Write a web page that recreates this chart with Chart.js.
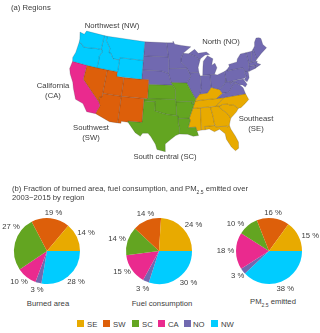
<!DOCTYPE html>
<html>
<head>
<meta charset="utf-8">
<title>Regions and fire emissions</title>
<script src="https://cdn.jsdelivr.net/npm/chart.js@4/dist/chart.umd.min.js"></script>
<style>
    html, body { margin: 0; padding: 0; background: #fff; }
    #page { position: relative; width: 320px; height: 333px; overflow: hidden; background: #fff;
            font-family: "Liberation Sans", Arial, sans-serif; font-size: 7.7px; color: #3c3c3c;
            filter: blur(0.35px); }
    #page canvas { position: absolute; }
    .txt { position: absolute; white-space: nowrap; line-height: 9.5px; }
    .mid { transform: translateX(-50%); text-align: center; }
    .swatch { position: absolute; width: 7px; height: 7px; top: 320px; }
    sub { font-size: 5px; line-height: 0; }
</style>
</head>
<body>
<div id="page">
    <canvas id="map" width="320" height="180" style="left:0;top:0"></canvas>
    <canvas id="pie1" width="110" height="92" style="left:-8px;top:205px"></canvas>
    <canvas id="pie2" width="110" height="92" style="left:104px;top:205px"></canvas>
    <canvas id="pie3" width="110" height="92" style="left:214px;top:205px"></canvas>

    <div class="txt" style="left:11px;top:3px">(a) Regions</div>
    <div class="txt mid" style="left:112px;top:21px">Northwest (NW)</div>
    <div class="txt mid" style="left:221px;top:37px">North (NO)</div>
    <div class="txt mid" style="left:53px;top:81px">California<br>(CA)</div>
    <div class="txt mid" style="left:91px;top:123px">Southwest<br>(SW)</div>
    <div class="txt mid" style="left:165px;top:152px">South central (SC)</div>
    <div class="txt mid" style="left:256px;top:114px">Southeast<br>(SE)</div>
    <div class="txt" style="left:12px;top:183.5px">(b) Fraction of burned area, fuel consumption, and PM<sub>2.5</sub> emitted over<br>2003&#8722;2015 by region</div>
    <div class="txt mid" style="left:48px;top:298.5px">Burned area</div>
    <div class="txt mid" style="left:162px;top:298.5px">Fuel consumption</div>
    <div class="txt mid" style="left:273px;top:297px">PM<sub>2.5</sub> emitted</div>
    <div id="legend"></div>
</div>

<script>
// shares in percent, clockwise from 3 o'clock
const regions = ['NW', 'NO', 'CA', 'SC', 'SW', 'SE'];
const burnedArea = [28, 3, 10, 27, 19, 14];
const fuelConsumption = [30, 3, 15, 14, 14, 24];
const pmEmitted = [38, 3, 18, 10, 16, 15];

const legendOrder = ['SE', 'SW', 'SC', 'CA', 'NO', 'NW'];

// state outlines as [lon, lat]
const nwStates = [
    [[-124.7,48.4],[-123.2,48.2],[-122.8,49],[-117.03,49],[-117.03,46.4],[-116.9,46],[-119,45.9],[-121,45.65],[-122.3,45.55],[-123.2,46.15],[-124,46.3],[-124.1,47]],
    [[-124,46.3],[-123.2,46.15],[-122.3,45.55],[-121,45.65],[-119,45.9],[-116.9,46],[-116.5,45.5],[-117.2,44.4],[-117.03,44],[-117.03,42],[-120,42],[-124.2,42],[-124.5,42.8],[-124.1,44]],
    [[-117.03,49],[-116.05,49],[-116.05,48],[-114.5,46.6],[-114.5,45.6],[-113.9,45.6],[-113,44.5],[-111.05,44.5],[-111.05,42],[-117.03,42],[-117.03,44],[-117.2,44.4],[-116.5,45.5],[-116.9,46],[-117.03,46.4]],
    [[-116.05,49],[-104.05,49],[-104.05,45],[-111.05,45],[-111.05,44.5],[-113,44.5],[-113.9,45.6],[-114.5,45.6],[-114.5,46.6],[-116.05,48]],
    [[-111.05,45],[-104.05,45],[-104.05,41],[-111.05,41]]
];
const caStates = [
    [[-124.2,42],[-120,42],[-120,39],[-114.63,35],[-114.13,34.3],[-114.7,33],[-114.8,32.5],[-117.1,32.5],[-118.5,34],[-120.6,34.5],[-121.9,36.6],[-122.5,37.8],[-123.8,39.3],[-124.4,40.4]]
];
const swStates = [
    [[-120,42],[-114.04,42],[-114.04,36.2],[-114.7,36.1],[-114.63,35],[-120,39]],
    [[-114.04,42],[-111.05,42],[-111.05,41],[-109.05,41],[-109.05,37],[-114.04,37]],
    [[-109.05,41],[-102.05,41],[-102.05,37],[-109.05,37]],
    [[-114.04,37],[-109.05,37],[-109.05,31.33],[-111.07,31.33],[-114.8,32.5],[-114.7,33],[-114.13,34.3],[-114.63,35],[-114.7,36.1],[-114.04,36.2]],
    [[-109.05,37],[-103,37],[-103.05,32],[-106.6,32],[-106.5,31.75],[-108.2,31.78],[-108.2,31.33],[-109.05,31.33]]
];
const scStates = [
    [[-103,36.5],[-100,36.5],[-100,34.56],[-98,34.1],[-96.5,33.8],[-94.48,33.64],[-94.05,33.55],[-94.05,33],[-94.04,32],[-93.7,31],[-93.85,29.7],[-94.7,29.4],[-96,28.5],[-97.2,27.6],[-97.15,25.95],[-99.1,26.4],[-99.5,27.5],[-100.7,29.1],[-101.4,29.77],[-102.7,29.7],[-103.2,29],[-104.5,29.7],[-106.5,31.75],[-106.6,32],[-103.05,32]],
    [[-103,37],[-94.62,37],[-94.43,35.4],[-94.48,33.64],[-96.5,33.8],[-98,34.1],[-100,34.56],[-100,36.5],[-103,36.5]],
    [[-102.05,40],[-95.3,40],[-94.62,39.1],[-94.62,37],[-102.05,37]],
    [[-95.8,40.6],[-91.4,40.4],[-90.2,38.4],[-89.5,37.3],[-89.15,37],[-89.5,36.5],[-89.7,36],[-90.37,36],[-90.1,36.5],[-94.62,36.5],[-94.62,39.1],[-95.3,40]],
    [[-94.62,36.5],[-90.1,36.5],[-90.37,36],[-89.7,36],[-90.2,35],[-91.2,33],[-94.05,33],[-94.05,33.55],[-94.48,33.64],[-94.43,35.4]],
    [[-94.05,33],[-91.2,33],[-91,32.5],[-91.6,31],[-89.75,31],[-89.5,30.2],[-89.2,29.2],[-90.5,29.1],[-91.8,29.6],[-93.85,29.7],[-93.7,31],[-94.04,32]]
];
const noStates = [
    [[-104.05,49],[-97.2,49],[-96.6,46],[-104.05,46]],
    [[-104.05,46],[-96.6,46],[-96.45,45.3],[-96.45,43.5],[-96.5,42.5],[-98.5,43],[-104.05,43]],
    [[-104.05,43],[-98.5,43],[-96.5,42.5],[-95.8,40.6],[-95.3,40],[-102.05,40],[-102.05,41],[-104.05,41]],
    [[-96.45,43.5],[-91.2,43.5],[-90.2,41.8],[-91.4,40.4],[-95.8,40.6],[-96.5,42.5]],
    [[-97.2,49],[-95.15,49],[-95.15,49.4],[-94.6,48.7],[-92.5,48.4],[-89.6,48],[-92.1,46.7],[-92.8,45.6],[-92.8,44.8],[-91.2,43.5],[-96.45,43.5],[-96.45,45.3],[-96.6,46]],
    [[-92.1,46.7],[-90.4,46.55],[-88.1,45.8],[-87.6,45.1],[-87,45.3],[-87.9,43.5],[-87.8,42.5],[-90.6,42.5],[-91.2,43.5],[-92.8,44.8],[-92.8,45.6]],
    [[-90.6,42.5],[-87.8,42.5],[-87.5,41.7],[-87.53,39.3],[-88.1,37.9],[-89.15,37],[-89.5,37.3],[-90.2,38.4],[-91.4,40.4],[-90.2,41.8]],
    [[-87.5,41.7],[-84.8,41.7],[-84.8,39.1],[-86,38],[-88.1,37.9],[-87.53,39.3]],
    [[-86.8,41.76],[-84.8,41.7],[-83.45,41.73],[-82.5,43],[-82.9,44],[-83.9,43.7],[-83.3,45],[-84.8,45.8],[-86.2,44.7],[-86.5,43.5]],
    [[-90.4,46.55],[-88.5,47.4],[-87.5,46.5],[-85,46.6],[-84.1,46],[-85.5,46],[-87,45.3],[-87.6,45.1],[-88.1,45.8]],
    [[-84.8,41.7],[-83.45,41.73],[-82.7,41.5],[-80.52,42],[-80.52,40.6],[-80.8,39.7],[-81.8,38.9],[-82.6,38.4],[-84,38.8],[-84.8,39.1]],
    [[-83.7,36.6],[-82,37.5],[-80.3,37.5],[-79.3,38.4],[-78.4,39.15],[-77.8,39.1],[-77.1,38.7],[-76.3,37.9],[-76,36.55],[-81.7,36.6]],
    [[-82.6,38.4],[-81.8,38.9],[-80.8,39.7],[-80.52,40.6],[-80.52,39.72],[-79.48,39.72],[-79.48,39.2],[-78.4,39.6],[-77.8,39.1],[-78.4,39.15],[-79.3,38.4],[-80.3,37.5],[-82,37.5]],
    [[-80.52,42],[-79.76,42.27],[-79.76,42],[-75.35,42],[-74.7,41.35],[-75.1,40.9],[-74.75,40.2],[-75.4,39.8],[-79.48,39.72],[-80.52,39.72]],
    [[-79.76,42.27],[-78.9,42.9],[-79,43.3],[-76.5,43.5],[-76.2,44.1],[-75,45],[-73.35,45],[-73.25,43.6],[-73.25,42.75],[-73.5,42.05],[-73.65,41],[-74,41],[-74.7,41.35],[-75.35,42],[-79.76,42]],
    [[-74.7,41.35],[-74,41],[-74,40.5],[-74.1,39.7],[-74.9,38.95],[-75.5,39.5],[-74.75,40.2],[-75.1,40.9]],
    [[-79.48,39.72],[-75.75,39.72],[-75.05,38.45],[-75.7,37.95],[-76.3,38.5],[-77.1,38.7],[-77.8,39.1],[-78.4,39.6],[-79.48,39.2]],
    [[-73.35,45],[-71.5,45],[-72.5,42.75],[-73.25,42.75],[-73.25,43.6]],
    [[-71.5,45],[-71.05,45.3],[-70.7,43.1],[-71.2,42.75],[-72.5,42.75]],
    [[-71.05,45.3],[-70.3,45.9],[-70,46.7],[-69.2,47.45],[-68.3,47.35],[-67.8,47.05],[-67.8,45.7],[-67,44.85],[-69,44],[-70.7,43.1]],
    [[-73.25,42.75],[-71.2,42.75],[-70.7,42.65],[-71,42.3],[-70,41.8],[-71.2,41.5],[-71.4,42],[-73.5,42.05]],
    [[-73.5,42.05],[-71.8,42],[-71.85,41.3],[-73.65,41]],
    [[-71.8,42],[-71.4,42],[-71.2,41.5],[-71.85,41.3]]
];
const seStates = [
    [[-89.5,36.5],[-89.15,37],[-88.1,37.9],[-86,38],[-84.8,39.1],[-84,38.8],[-82.6,38.4],[-82,37.5],[-83.7,36.6],[-88,36.6]],
    [[-90.2,35],[-89.7,36],[-89.5,36.5],[-88,36.6],[-83.7,36.6],[-81.7,36.6],[-84.3,35]],
    [[-84.3,35],[-81.7,36.6],[-76,36.55],[-75.5,35.25],[-76.6,34.6],[-77.9,33.9],[-78.55,33.85],[-79.7,34.8],[-80.8,34.85],[-81.05,35.15],[-82.4,35.2],[-83.1,35]],
    [[-83.1,35],[-82.4,35.2],[-81.05,35.15],[-80.8,34.85],[-79.7,34.8],[-78.55,33.85],[-79.2,33.2],[-80.9,32.05],[-81.4,33],[-83.35,34.7]],
    [[-85.6,35],[-84.3,35],[-83.1,35],[-83.35,34.7],[-81.4,33],[-80.9,32.05],[-81.5,30.7],[-82,30.4],[-82.2,30.55],[-84.85,30.7],[-85.1,31.55],[-85.2,32.9]],
    [[-88.2,35],[-85.6,35],[-85.2,32.9],[-85.1,31.55],[-85,31],[-87.6,31],[-87.5,30.3],[-88.4,30.3]],
    [[-90.2,35],[-88.2,35],[-88.4,30.3],[-89.5,30.2],[-89.75,31],[-91.6,31],[-91,32.5],[-91.2,33]],
    [[-87.6,31],[-85,31],[-84.85,30.7],[-82.2,30.55],[-82,30.4],[-81.5,30.7],[-81.3,29.8],[-80.5,28.2],[-80,26.8],[-80.2,25.5],[-81,25.1],[-81.8,26],[-82.7,27.8],[-82.8,29],[-84,30.1],[-85.3,29.7],[-86.5,30.4],[-87.5,30.3]]
];

const colors = { SE: '#E8AA00', SW: '#DD5F0A', SC: '#63A521', CA: '#EA2A8E', NO: '#7169B0', NW: '#00CCFF' };
const statesByRegion = { NW: nwStates, CA: caStates, SW: swStates, SC: scStates, NO: noStates, SE: seStates };

// Albers equal area, the map is drawn in this projection
const toAlbers = ([lon, lat]) => {
    const rad = Math.PI / 180;
    const s1 = Math.sin(29.5 * rad), s2 = Math.sin(45.5 * rad);
    const n = (s1 + s2) / 2;
    const c = Math.cos(29.5 * rad) ** 2 + 2 * n * s1;
    const rho = (phi) => Math.sqrt(c - 2 * n * Math.sin(phi * rad)) / n;
    const theta = n * (lon + 96) * rad;
    return { x: rho(lat) * Math.sin(theta), y: rho(37.5) - rho(lat) * Math.cos(theta) };
};

const mapDatasets = [];
for (const region of Object.keys(statesByRegion)) {
    for (const state of statesByRegion[region]) {
        const pts = state.map(toAlbers);
        pts.push(pts[0]);
        mapDatasets.push({
            data: pts,
            showLine: true,
            tension: 0,
            pointRadius: 0,
            fill: 'shape',
            backgroundColor: colors[region],
            borderColor: 'rgba(45,45,60,0.38)',
            borderWidth: 0.5,
            // solid, but a dash setting stops Chart.js merging points per x pixel
            borderDash: [500, 0]
        });
    }
}

new Chart(document.getElementById('map'), {
    type: 'scatter',
    data: { datasets: mapDatasets },
    options: {
        responsive: false,
        animation: false,
        events: [],
        plugins: { legend: { display: false }, tooltip: { enabled: false } },
        scales: {
            x: { type: 'linear', display: false, min: -0.6238, max: 0.5484 },
            y: { type: 'linear', display: false, min: -0.3067, max: 0.36 }
        }
    }
});

// where each percent label sits relative to its pie centre, same order as regions
const offsets1 = [[29, 31], [-10, 39], [-28, 31], [-36, -24], [6.5, -38], [39, -18]];
const offsets2 = [[29.6, 32], [-16.4, 38.3], [-37, 21], [-42, -12.4], [-13.4, -37.4], [34.6, -25.7]];
const offsets3 = [[16.3, 38.3], [-31.4, 25.3], [-43.4, 0.3], [-33.4, -27.4], [4, -38.4], [41.3, -14.7]];

const pieLabels = {
    id: 'pieLabels',
    afterDatasetsDraw(chart, args, opts) {
        const ctx = chart.ctx;
        const values = chart.data.datasets[0].data;
        ctx.save();
        ctx.font = '7.7px "Liberation Sans", Arial, sans-serif';
        ctx.fillStyle = '#3c3c3c';
        ctx.textAlign = 'center';
        ctx.textBaseline = 'middle';
        chart.getDatasetMeta(0).data.forEach((arc, i) => {
            ctx.fillText(values[i] + ' %', arc.x + opts.offsets[i][0], arc.y + opts.offsets[i][1]);
        });
        ctx.restore();
    }
};

const makePie = (id, values, offsets) => new Chart(document.getElementById(id), {
    type: 'pie',
    data: {
        labels: regions,
        datasets: [{ data: values, backgroundColor: regions.map(r => colors[r]), borderWidth: 0 }]
    },
    options: {
        responsive: false,
        animation: false,
        events: [],
        rotation: 90,
        layout: { padding: { left: 22, right: 22, top: 13, bottom: 13 } },
        plugins: { legend: { display: false }, tooltip: { enabled: false }, pieLabels: { offsets } }
    },
    plugins: [pieLabels]
});

makePie('pie1', burnedArea, offsets1);
makePie('pie2', fuelConsumption, offsets2);
makePie('pie3', pmEmitted, offsets3);

// shared legend under the pies
const swatchLeft = [77, 103, 132, 158, 184, 211];
const labelLeft = [87, 113, 142, 168, 193, 221];
const legend = document.getElementById('legend');
legendOrder.forEach((r, i) => {
    const sw = document.createElement('div');
    sw.className = 'swatch';
    sw.style.left = swatchLeft[i] + 'px';
    sw.style.background = colors[r];
    const lab = document.createElement('div');
    lab.className = 'txt';
    lab.style.left = labelLeft[i] + 'px';
    lab.style.top = '319.5px';
    lab.textContent = r;
    legend.appendChild(sw);
    legend.appendChild(lab);
});
</script>
</body>
</html>
